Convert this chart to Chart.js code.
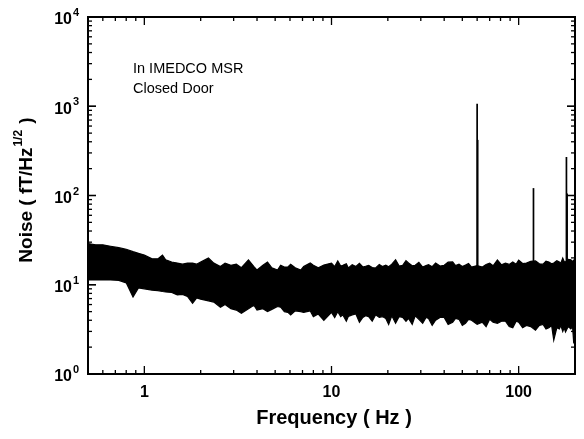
<!DOCTYPE html>
<html><head><meta charset="utf-8">
<style>html,body{margin:0;padding:0;background:#fff;}#wrap{width:584px;height:439px;position:relative;}canvas{display:block;}</style>
<script src="https://cdn.jsdelivr.net/npm/chart.js@4.4.0/dist/chart.umd.min.js"></script>
</head><body>
<div id="wrap"><canvas id="c" width="584" height="439"></canvas></div>
<script>
// Frequency grid (Hz) and noise band envelopes (fT/Hz^1/2)
const freq = [0.5,0.55,0.6,0.66,0.73,0.8,0.87,0.93,1.0,1.1,1.18,1.25,1.3,1.4,1.5,1.6,1.7,1.81,1.9,2.0,2.2,2.35,2.55,2.7,2.9,3.1,3.3,3.6,3.85,4.0,4.3,4.55,4.8,5.15,5.35,5.6,5.85,6.05,6.4,6.85,7.1,7.7,8.0,8.5,9.1,
  10,10.4,10.8,11.2,11.5,12.0,12.3,12.9,13.5,14.1,14.7,15.2,15.8,16.5,17.2,18.0,18.7,19.5,20.2,21,22,23,24,25,25.8,27,28,29.3,30.7,32,33,34.5,36,38,40,42,44.4,46,48,50,52,54,56,60,64,67,70,73,77,81,85,89,93,97,100,105,110,116,123,129,135,140,145,150,154,160,165,168,172,175,178,184,190,194,197,200];
const upperNoise = [29,28,28,27,26,25,23.5,22.5,21.5,19.5,19.5,21.5,19,18,17.5,17,17.5,17.5,17,18,20,17.5,16,17.5,16.5,17,15.5,19,16,14.6,16.5,18,15.5,14.6,16.5,15.8,15.8,17,15.5,14.6,16,17.5,16.5,15.5,16.6,
  17.5,16,18.5,16.2,16.5,17.2,15.4,16.8,16,17.4,15.8,16.1,16.5,15.6,15.4,16.9,16,16.6,15.9,17,19,16.2,16.5,18.6,17.5,16.3,16.5,17.8,15.8,16.4,16.8,15.9,17.5,16.2,16.5,17.9,18,16.4,17,16,16.6,17.3,15.8,16.4,15.8,16.9,17.5,16.3,18.9,16.7,17.5,16.9,18,17,18.9,17.3,17.5,18.3,18.5,17.2,17,18.4,18,17.2,17.5,18.6,18,17.4,19.9,18.2,18,19.2,19,18.2,18.9,18.5];
const lowerNoise = [11.3,11.3,11.3,11.3,11.2,10.5,7.3,9.2,9.0,8.7,8.6,8.4,8.3,8.2,7.7,7.8,7.4,6.2,7.1,6.9,6.6,6.4,5.6,6.0,5.4,5.2,4.8,5.4,5.9,5.2,5.4,5.0,5.3,5.7,5.6,5.0,4.9,4.6,5.1,5.0,4.9,5.1,4.4,4.7,4.0,
  4.9,4.3,5.0,4.4,4.6,3.9,4.4,4.6,4.7,3.8,4.3,4.5,4.4,3.9,4.6,4.3,4.4,4.2,3.6,4.5,3.7,4.4,4.3,3.9,4.2,3.6,4.5,4.1,3.7,4.3,4.2,3.5,4.0,4.3,4.3,3.6,3.8,4.2,4.1,3.5,3.7,4.1,4.0,3.6,3.8,3.4,4.1,3.8,3.7,3.9,3.9,3.4,3.3,3.9,3.8,3.3,3.5,3.4,3.1,3.5,3.6,3.2,3.3,3.5,2.4,3.3,3.2,3.5,3.0,3.3,2.96,3.4,3.2,3.4,2.2,3.0];
// Power-line spikes
const spikeFreq = [60, 60.4, 120, 180, 181.5];
const spikeTop = [1070, 420, 121, 270, 105];
const spikeBase = [10, 10, 10, 10, 10];
// Axis ticks
const xTickValues = [1, 10, 100];
const xTickLabels = ['1', '10', '100'];
const yTickExps = [0, 1, 2, 3, 4];
const annotationLines = ['In IMEDCO MSR', 'Closed Door'];

const FONT = '"Liberation Sans", Arial, Helvetica, sans-serif';

const datasets = [
  { data: freq.map((f,i)=>({x:f,y:upperNoise[i]})), borderColor:'#000', borderWidth:1.2, pointRadius:0, fill:'+1', backgroundColor:'#000', tension:0 },
  { data: freq.map((f,i)=>({x:f,y:lowerNoise[i]})), borderColor:'#000', borderWidth:1.2, pointRadius:0, fill:false, tension:0 }
];
spikeFreq.forEach((f,i)=>{
  datasets.push({ data:[{x:f,y:spikeBase[i]},{x:f,y:spikeTop[i]}], borderColor:'#000', borderWidth:1.7, pointRadius:0, fill:false });
});

const framePlugin = {
  id:'frame',
  afterDatasetsDraw(chart){
    const ctx = chart.ctx, a = chart.chartArea, xs = chart.scales.x, ys = chart.scales.y;
    ctx.save();
    ctx.strokeStyle = '#000';
    ctx.lineWidth = 1.3;
    const xMinor = [];
    [0.1,1,10,100].forEach(d=>{ for(let k=1;k<=9;k++){ const v=k*d; if(v>=0.5 && v<=200) xMinor.push({v, major:k===1}); } });
    xMinor.forEach(t=>{
      const px = xs.getPixelForValue(t.v);
      const len = t.major ? 8 : 4;
      ctx.beginPath(); ctx.moveTo(px,a.bottom); ctx.lineTo(px,a.bottom-len); ctx.stroke();
      ctx.beginPath(); ctx.moveTo(px,a.top); ctx.lineTo(px,a.top+len); ctx.stroke();
    });
    [1,10,100,1000].forEach(d=>{ for(let k=1;k<=10;k++){ const v=k*d; if(v>10000) continue;
      const py = ys.getPixelForValue(v); const major = (k===1||k===10); const len = major?8:4;
      ctx.beginPath(); ctx.moveTo(a.left,py); ctx.lineTo(a.left+len,py); ctx.stroke();
      ctx.beginPath(); ctx.moveTo(a.right,py); ctx.lineTo(a.right-len,py); ctx.stroke();
    }});
    ctx.lineWidth = 2;
    ctx.strokeRect(a.left, a.top, a.right-a.left, a.bottom-a.top);
    ctx.fillStyle = '#000';
    ctx.font = 'bold 16px ' + FONT;
    ctx.textAlign = 'center'; ctx.textBaseline = 'middle';
    xTickValues.forEach((v,i)=>{ ctx.fillText(xTickLabels[i], xs.getPixelForValue(v), a.bottom+19); });
    yTickExps.forEach(e=>{
      const py = ys.getPixelForValue(Math.pow(10,e));
      ctx.font = 'bold 16px ' + FONT; ctx.textAlign='right'; ctx.textBaseline='middle';
      ctx.fillText('10', a.left-16, py+3);
      ctx.font = 'bold 11px ' + FONT; ctx.textAlign='left';
      ctx.fillText(String(e), a.left-15, py-4);
    });
    ctx.font = 'bold 20px ' + FONT; ctx.textAlign='center'; ctx.textBaseline='middle';
    ctx.fillText('Frequency ( Hz )', 334, 418);
    ctx.save();
    ctx.translate(27, 190);
    ctx.rotate(-Math.PI/2);
    const p1 = 'Noise ( fT/Hz', sup = '1/2', p3 = ' )';
    ctx.font = 'bold 19px ' + FONT; const w1 = ctx.measureText(p1).width, w3 = ctx.measureText(p3).width;
    ctx.font = 'bold 12px ' + FONT; const w2 = ctx.measureText(sup).width;
    const tot = w1 + w2 + 2 + w3; let x0 = -tot/2;
    ctx.textAlign='left'; ctx.textBaseline='middle';
    ctx.font = 'bold 19px ' + FONT; ctx.fillText(p1, x0, 0);
    ctx.font = 'bold 12px ' + FONT; ctx.fillText(sup, x0 + w1 + 1, -8);
    ctx.font = 'bold 19px ' + FONT; ctx.fillText(p3, x0 + w1 + w2 + 2, 0);
    ctx.restore();
    ctx.font = '14.5px ' + FONT; ctx.textAlign='left'; ctx.textBaseline='middle';
    ctx.fillText(annotationLines[0], 133, 69);
    ctx.fillText(annotationLines[1], 133, 89);
    ctx.restore();
  }
};

new Chart(document.getElementById('c'), {
  type:'line',
  data:{ datasets },
  options:{
    responsive:false, devicePixelRatio:1, animation:false,
    layout:{ padding:{ left:88, right:9, top:17, bottom:65 } },
    plugins:{ legend:{display:false}, tooltip:{enabled:false} },
    scales:{
      x:{ type:'logarithmic', min:0.5, max:200, display:false },
      y:{ type:'logarithmic', min:1, max:10000, display:false }
    }
  },
  plugins:[framePlugin]
});
</script>
</body></html>
